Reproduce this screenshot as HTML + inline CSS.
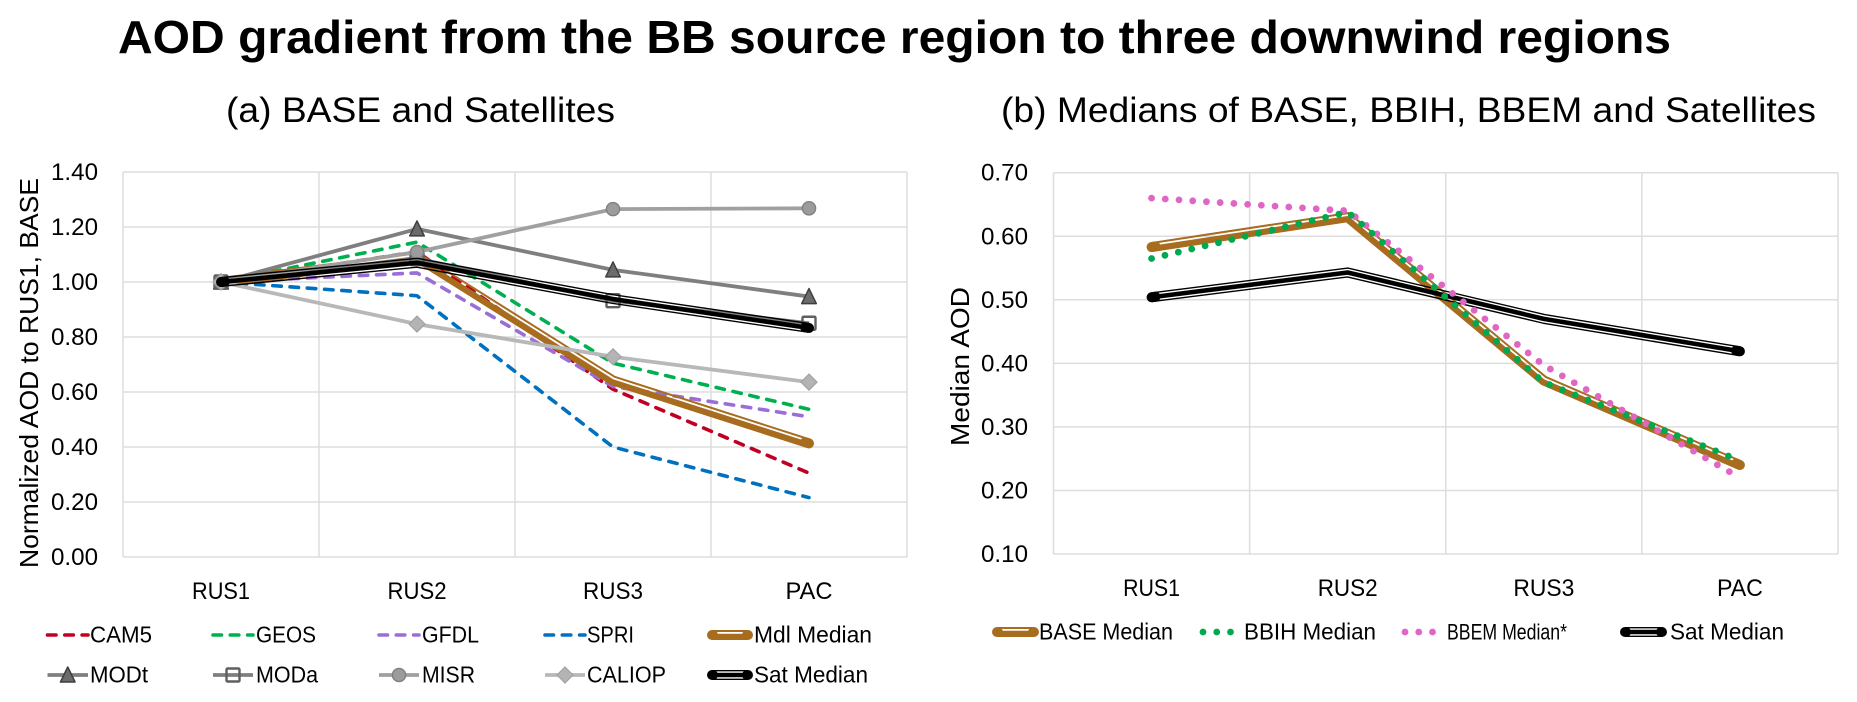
<!DOCTYPE html>
<html lang="en">
<head>
<meta charset="utf-8">
<title>AOD gradient from the BB source region to three downwind regions</title>
<style>
  html, body { margin: 0; padding: 0; background: #fff; }
  svg { display: block; font-family: "Liberation Sans", sans-serif; }
</style>
</head>
<body>
<svg id="figure" xmlns="http://www.w3.org/2000/svg" width="1857" height="702" viewBox="0 0 1857 702">
  <rect x="0" y="0" width="1857" height="702" fill="#ffffff"/>
  <text x="118" y="53" font-size="46" font-weight="bold" fill="#000" textLength="1553" lengthAdjust="spacingAndGlyphs">AOD gradient from the BB source region to three downwind regions</text>
  <text x="226" y="122" font-size="35" fill="#000" textLength="389" lengthAdjust="spacingAndGlyphs">(a) BASE and Satellites</text>
  <text x="1001" y="122" font-size="35" fill="#000" textLength="815" lengthAdjust="spacingAndGlyphs">(b) Medians of BASE, BBIH, BBEM and Satellites</text>
  <text transform="translate(38,568) rotate(-90)" font-size="26" fill="#000" textLength="390" lengthAdjust="spacingAndGlyphs">Normalized AOD to RUS1, BASE</text>
  <text transform="translate(969,446) rotate(-90)" font-size="26" fill="#000" textLength="159" lengthAdjust="spacingAndGlyphs">Median AOD</text>
  <g id="chart-a"></g>
  <g id="chart-b"></g>
</svg>
<script>
// ---------- Data: chart (a) ----------
const categories = ["RUS1", "RUS2", "RUS3", "PAC"];
const ticksA = [0, 0.2, 0.4, 0.6, 0.8, 1.0, 1.2, 1.4];
const cam5 = [1, 1.11, 0.61, 0.305];
const geos = [1, 1.145, 0.705, 0.537];
const gfdl = [1, 1.033, 0.62, 0.51];
const spri = [1, 0.95, 0.40, 0.216];
const mdlMedian = [1, 1.09, 0.642, 0.413];
const modt = [1, 1.193, 1.044, 0.947];
const moda = [1, 1.085, 0.932, 0.85];
const misr = [1, 1.109, 1.265, 1.268];
const caliop = [1, 0.847, 0.728, 0.636];
const satMedianA = [1, 1.07, 0.938, 0.833];

// ---------- Data: chart (b) ----------
const ticksB = [0.1, 0.2, 0.3, 0.4, 0.5, 0.6, 0.7];
const baseMedian = [0.583, 0.63, 0.373, 0.24];
const bbihMedian = [0.565, 0.638, 0.37, 0.247];
const bbemMedian = [0.66, 0.64, 0.397, 0.22];
const satMedianB = [0.504, 0.543, 0.47, 0.419];

// ---------- Axis functions ----------
const A = { left: 123, right: 907, top: 172, bottom: 557, min: 0, max: 1.4 };
const B = { left: 1053.5, right: 1838, top: 172.7, bottom: 554, min: 0.1, max: 0.7 };
function xScale(ax, i) { return ax.left + (i + 0.5) * (ax.right - ax.left) / categories.length; }
function yScale(ax, v) { return ax.bottom - (v - ax.min) / (ax.max - ax.min) * (ax.bottom - ax.top); }

const NS = "http://www.w3.org/2000/svg";
function make(parent, tag, attrs) {
  const el = document.createElementNS(NS, tag);
  for (const k in attrs) el.setAttribute(k, attrs[k]);
  parent.appendChild(el);
  return el;
}
function ptsStr(pts) { return pts.map(p => p[0].toFixed(2) + "," + p[1].toFixed(2)).join(" "); }

// Parallel polyline (mitered) used for compound "double" strokes; positive d = upward side
function offsetPts(pts, d) {
  const out = [];
  const normals = [];
  for (let i = 0; i < pts.length - 1; i++) {
    const dx = pts[i + 1][0] - pts[i][0], dy = pts[i + 1][1] - pts[i][1];
    const L = Math.hypot(dx, dy);
    normals.push([dy / L, -dx / L]);
  }
  for (let i = 0; i < pts.length; i++) {
    const n1 = normals[Math.max(0, i - 1)], n2 = normals[Math.min(normals.length - 1, i)];
    let mx = n1[0] + n2[0], my = n1[1] + n2[1];
    const L = Math.hypot(mx, my);
    mx /= L; my /= L;
    const c = mx * n1[0] + my * n1[1];
    out.push([pts[i][0] + mx * d / c, pts[i][1] + my * d / c]);
  }
  return out;
}

// ---------- Stroke painters ----------
const DASH = "8.5 8.8";
const DOT = "0 13.75";
const STRANDS_THICK = [[4, 2], [-1.9, 6.2]];
const STRANDS_TRIPLE = [[4.35, 1.4], [0, 4.6], [-4.35, 1.4]];

function drawCompound(g, pts, color, strands, inset) {
  strands.forEach(s => {
    make(g, "polyline", { points: ptsStr(offsetPts(pts, s[0])), fill: "none", stroke: color, "stroke-width": s[1], "stroke-linejoin": "round" });
  });
  const ends = [[pts[0], pts[1]], [pts[pts.length - 1], pts[pts.length - 2]]];
  ends.forEach(e => {
    const dx = e[1][0] - e[0][0], dy = e[1][1] - e[0][1], L = Math.hypot(dx, dy);
    make(g, "line", { x1: e[0][0], y1: e[0][1], x2: e[0][0] + inset * dx / L, y2: e[0][1] + inset * dy / L, stroke: color, "stroke-width": 10, "stroke-linecap": "round" });
  });
}
function drawMarker(g, kind, x, y) {
  if (kind === "triangle") {
    make(g, "polygon", { points: [[x, y - 8], [x + 7.3, y + 7], [x - 7.3, y + 7]].map(p => p.join(",")).join(" "), fill: "#6b6b6b", stroke: "#3f3f3f", "stroke-width": 1.5, "stroke-linejoin": "round" });
  } else if (kind === "square") {
    make(g, "rect", { x: x - 6.5, y: y - 6.5, width: 13, height: 13, rx: 1, fill: "none", stroke: "#5f5f5f", "stroke-width": 2.4 });
  } else if (kind === "circle") {
    make(g, "circle", { cx: x, cy: y, r: 6.6, fill: "#9c9c9c", stroke: "#808080", "stroke-width": 1.4 });
  } else if (kind === "diamond") {
    make(g, "polygon", { points: [[x, y - 8], [x + 8, y], [x, y + 8], [x - 8, y]].map(p => p.join(",")).join(" "), fill: "#b4b4b4", stroke: "#a2a2a2", "stroke-width": 1.2 });
  }
}
function drawStroke(g, pts, st, inset) {
  if (st.strands) { drawCompound(g, pts, st.color, st.strands, inset); return; }
  const attrs = { points: ptsStr(pts), fill: "none", stroke: st.color, "stroke-width": st.width, "stroke-linejoin": "round" };
  if (st.dash) { attrs["stroke-dasharray"] = st.dash; attrs["stroke-linecap"] = "round"; }
  make(g, "polyline", attrs);
}

// ---------- Series styling (order = painting order) ----------
const stylesA = [
  { key: "cam5", label: "CAM5", values: cam5, color: "#c00022", width: 3.6, dash: DASH },
  { key: "geos", label: "GEOS", values: geos, color: "#00b050", width: 3.6, dash: DASH },
  { key: "gfdl", label: "GFDL", values: gfdl, color: "#9b6dd6", width: 3.6, dash: DASH },
  { key: "spri", label: "SPRI", values: spri, color: "#0070c0", width: 3.6, dash: DASH },
  { key: "mdl-median", label: "Mdl Median", values: mdlMedian, color: "#a86c1e", strands: STRANDS_THICK },
  { key: "modt", label: "MODt", values: modt, color: "#7f7f7f", width: 3.8, marker: "triangle" },
  { key: "moda", label: "MODa", values: moda, color: "#7f7f7f", width: 3.8, marker: "square" },
  { key: "misr", label: "MISR", values: misr, color: "#a0a0a0", width: 3.8, marker: "circle" },
  { key: "caliop", label: "CALIOP", values: caliop, color: "#b8b8b8", width: 3.8, marker: "diamond" },
  { key: "sat-median", label: "Sat Median", values: satMedianA, color: "#000000", strands: STRANDS_TRIPLE }
];
const stylesB = [
  { key: "base-median", label: "BASE Median", values: baseMedian, color: "#a86c1e", strands: STRANDS_THICK },
  { key: "sat-median", label: "Sat Median", values: satMedianB, color: "#000000", strands: STRANDS_TRIPLE },
  { key: "bbem-median", label: "BBEM Median*", values: bbemMedian, color: "#e066c6", width: 6.8, dash: DOT },
  { key: "bbih-median", label: "BBIH Median", values: bbihMedian, color: "#00a94f", width: 6.8, dash: DOT }
];

// ---------- Layout of labels and legend ----------
const catLayoutA = { y: 599, widths: [58, 59, 60, 47] };
const catLayoutB = { y: 596, widths: [57, 60, 61, 46] };
const legendA = {
  "cam5": [47.5, 88, 635, 90, 62], "geos": [213, 253, 635, 256, 60], "gfdl": [379, 419, 635, 422, 57], "spri": [545, 585, 635, 587, 47],
  "mdl-median": [712, 748, 635, 754, 118],
  "modt": [47.5, 88, 675, 90, 58], "moda": [213, 253, 675, 256, 62], "misr": [379, 419, 675, 422, 53], "caliop": [545, 585, 675, 587, 79],
  "sat-median": [712, 748, 675, 754, 114]
};
const legendB = {
  "base-median": [997, 1034, 632, 1039, 134],
  "bbih-median": [1203, 1231, 632, 1244, 132],
  "bbem-median": [1405, 1433, 632, 1447, 120, 22],
  "sat-median": [1625, 1662, 632, 1670, 114]
};

function drawChart(root, ax, ticks, styles, legend, catLayout, tickX, tickBase, prefix, legendBaseOffset) {
  const gridG = make(root, "g", {});
  
  
  ticks.forEach(t => {
    const y = yScale(ax, t);
    const ln = make(gridG, "line", { x1: ax.left, x2: ax.right, y1: y, y2: y, stroke: "#dddddd", "stroke-width": 1.5 });
    
    
    const lb = make(root, "text", { x: tickX, y: y + tickBase, "font-size": 24, fill: "#000", textLength: 47, lengthAdjust: "spacingAndGlyphs" });
    lb.textContent = t.toFixed(2);
    
    
  });
  for (let i = 0; i <= categories.length; i++) {
    const x = ax.left + i * (ax.right - ax.left) / categories.length;
    const ln = make(gridG, "line", { x1: x, x2: x, y1: ax.top, y2: ax.bottom, stroke: "#dddddd", "stroke-width": 1.5 });
    
    
  }
  categories.forEach((c, i) => {
    const lb = make(root, "text", { x: xScale(ax, i), y: catLayout.y, "font-size": 24, fill: "#000", "text-anchor": "middle", textLength: catLayout.widths[i], lengthAdjust: "spacingAndGlyphs" });
    lb.textContent = c;
    
    
  });
  styles.forEach(st => {
    const g = make(root, "g", {});
    
    
    const pts = st.values.map((v, i) => [xScale(ax, i), yScale(ax, v)]);
    drawStroke(g, pts, st, 4);
    if (st.marker) pts.forEach(p => drawMarker(g, st.marker, p[0], p[1]));
  });
  styles.forEach(st => {
    const L = legend[st.key];
    const g = make(root, "g", {});
    
    
    drawStroke(g, [[L[0], L[2]], [L[1], L[2]]], st, 1);
    if (st.marker) drawMarker(g, st.marker, (L[0] + L[1]) / 2, L[2]);
    const tx = make(g, "text", { x: L[3], y: L[2] + legendBaseOffset, "font-size": L[5] || 23, fill: "#000", textLength: L[4], lengthAdjust: "spacingAndGlyphs" });
    tx.textContent = st.label;
    
    
  });
}

drawChart(document.getElementById("chart-a"), A, ticksA, stylesA, legendA, catLayoutA, 51, 8, "chart-a", 7.5);
drawChart(document.getElementById("chart-b"), B, ticksB, stylesB, legendB, catLayoutB, 981, 8, "chart-b", 7.5);
</script>
</body>
</html>
